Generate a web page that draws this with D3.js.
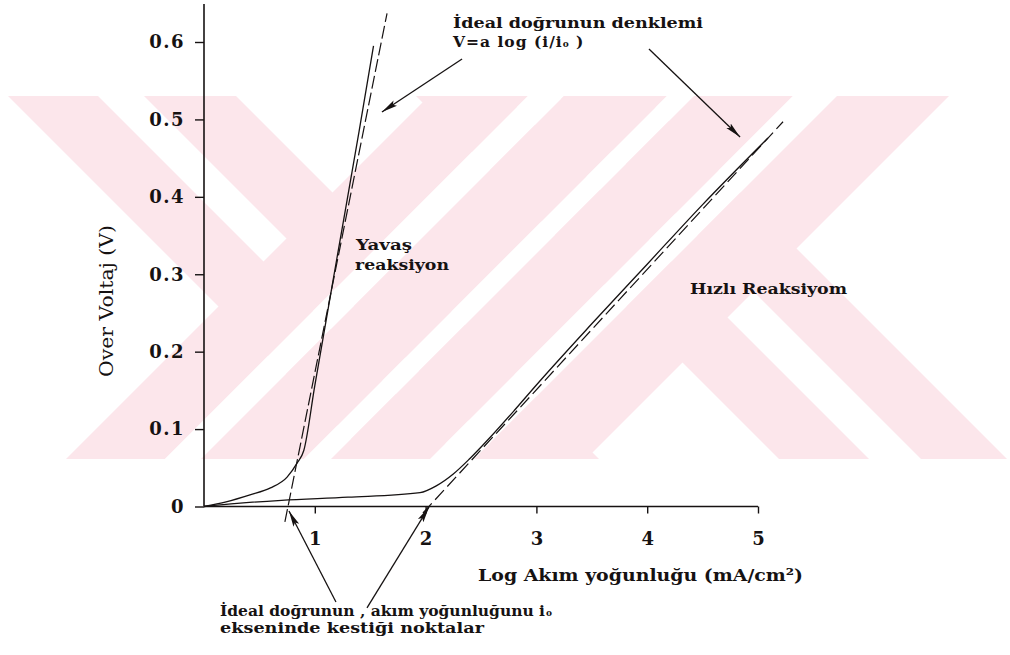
<!DOCTYPE html>
<html>
<head>
<meta charset="utf-8">
<script src="https://cdn.jsdelivr.net/npm/d3@7"></script>
<style>
  html, body { margin: 0; padding: 0; background: #fff; }
  svg { display: block; font-family: "DejaVu Serif", "Liberation Serif", serif; }
</style>
</head>
<body>
<svg id="chart" width="1010" height="655"></svg>
<script>
// Polarisation curves: log current density (mA/cm²) against overvoltage (V)
const slowLogI = [0, 0.2, 0.415, 0.6, 0.75, 0.84, 0.9, 1.0, 1.2, 1.4, 1.53];
const slowV    = [0, 0.006, 0.015, 0.024, 0.038, 0.056, 0.072, 0.156, 0.321, 0.485, 0.595];

const fastLogI = [0, 0.3, 0.7, 1.3, 1.95, 2.1, 2.25, 2.4, 2.6, 2.8, 3.0, 3.5, 4.0, 4.5, 5.09];
const fastV    = [0, 0.004, 0.008, 0.012, 0.018, 0.027, 0.042, 0.062, 0.092, 0.124, 0.157, 0.236, 0.313, 0.390, 0.476];

// Ideal lines V = a log(i/i0), given by their two end points
const slowIdealLogI = [0.73, 1.652];
const slowIdealV    = [-0.020, 0.637];
const fastIdealLogI = [1.976, 5.226];
const fastIdealV    = [-0.0084, 0.497];

const xTickValues = [1, 2, 3, 4, 5];
const xTickLabels = ["1", "2", "3", "4", "5"];
const yTickValues = [0, 0.1, 0.2, 0.3, 0.4, 0.5, 0.6];
const yTickLabels = ["0", "0.1", "0.2", "0.3", "0.4", "0.5", "0.6"];

const svg = d3.select("#chart");
const ink = "#161212";

const x = d3.scaleLinear().domain([0, 5]).range([204, 758]);
const y = d3.scaleLinear().domain([0, 0.6]).range([506.5, 42]);

// ---- background emblem: two striped crosses built from 45° bands ----
const defs = svg.append("defs");
defs.append("clipPath").attr("id", "band")
  .append("rect").attr("x", 0).attr("y", 96).attr("width", 1010).attr("height", 363);

defs.append("marker")
  .attr("id", "head").attr("viewBox", "0 -4 16 8")
  .attr("refX", 16).attr("refY", 0)
  .attr("markerWidth", 16).attr("markerHeight", 8)
  .attr("markerUnits", "userSpaceOnUse")
  .attr("orient", "auto")
  .append("path").attr("d", "M0,-3.2L16,0L0,3.2L3,0Z").attr("fill", ink);

const emblem = svg.append("g").attr("clip-path", "url(#band)");
const pink = "#fce6eb";
// u = x + y (constant along "/"), v = x - y (constant along "\")
function uvPoly(u0, u1, v0, v1) {
  return [[u0, v0], [u1, v0], [u1, v1], [u0, v1]]
    .map(([u, v]) => [(u + v) / 2, (u - v) / 2].join(",")).join(" ");
}
// "\" bands
[[-88, 2], [48, 140], [320, 410], [462, 548]].forEach(([v0, v1]) => {
  emblem.append("polygon").attr("points", uvPoly(-2000, 3000, v0, v1)).attr("fill", pink);
});
// "/" bands lying over them, with white gaps between the stripes
[[525, 624, pink], [624, 660, "#fff"], [660, 763, pink], [763, 790, "#fff"],
 [790, 889, pink], [889, 933, "#fff"], [933, 1045, pink]].forEach(([u0, u1, c]) => {
  emblem.append("polygon").attr("points", uvPoly(u0, u1, -2000, 3000)).attr("fill", c);
});

// ---- axes ----
const xAxis = d3.axisBottom(x)
  .tickValues(xTickValues)
  .tickFormat((d, i) => xTickLabels[i])
  .tickSize(7).tickSizeOuter(0).tickPadding(19);

const gx = svg.append("g").attr("transform", `translate(0,${y(0)})`).call(xAxis);
gx.select(".domain").attr("stroke", ink).attr("stroke-width", 1.6)
  .attr("d", `M${x(0)},0H${x(5)}`);
gx.selectAll(".tick line").attr("stroke", ink).attr("stroke-width", 1.4);
gx.selectAll(".tick text")
  .attr("fill", ink).attr("font-family", "DejaVu Serif")
  .attr("font-weight", "bold").attr("font-size", 18);

const yAxis = d3.axisLeft(y)
  .tickValues(yTickValues)
  .tickFormat((d, i) => yTickLabels[i])
  .tickSize(9).tickSizeOuter(0).tickPadding(10);

const gy = svg.append("g").attr("transform", `translate(${x(0)},0)`).call(yAxis);
gy.select(".domain").attr("stroke", ink).attr("stroke-width", 1.6)
  .attr("d", `M0,${y(0)}V${y(0.649)}`);
gy.selectAll(".tick line").attr("stroke", ink).attr("stroke-width", 1.4);
gy.selectAll(".tick text")
  .attr("fill", ink).attr("font-family", "DejaVu Serif")
  .attr("font-weight", "bold").attr("font-size", 18)
  .attr("letter-spacing", "1.5px");

// ---- curves ----
const line = d3.line().x(d => x(d[0])).y(d => y(d[1])).curve(d3.curveMonotoneX);
const straight = d3.line().x(d => x(d[0])).y(d => y(d[1]));

svg.append("path").datum(d3.zip(slowLogI, slowV))
  .attr("d", line).attr("fill", "none").attr("stroke", ink).attr("stroke-width", 1.3);
svg.append("path").datum(d3.zip(fastLogI, fastV))
  .attr("d", line).attr("fill", "none").attr("stroke", ink).attr("stroke-width", 1.3);

svg.append("path").datum(d3.zip(slowIdealLogI, slowIdealV))
  .attr("d", straight).attr("fill", "none").attr("stroke", ink)
  .attr("stroke-width", 1.2).attr("stroke-dasharray", "13,4");
svg.append("path").datum(d3.zip(fastIdealLogI, fastIdealV))
  .attr("d", straight).attr("fill", "none").attr("stroke", ink)
  .attr("stroke-width", 1.2).attr("stroke-dasharray", "13,5");

// ---- annotation arrows (tail -> tip, in axis units) ----
[
  [2.329, 0.578, 1.606, 0.5096],
  [4.016, 0.591, 4.838, 0.4774],
  [1.191, -0.1234, 0.767, -0.0058],
  [1.471, -0.131, 2.031, -0.0006]
].forEach(([lx0, v0, lx1, v1]) => {
  svg.append("line")
    .attr("x1", x(lx0)).attr("y1", y(v0)).attr("x2", x(lx1)).attr("y2", y(v1))
    .attr("stroke", ink).attr("stroke-width", 1.3)
    .attr("marker-end", "url(#head)");
});

// ---- text ----
function label(txt, px, py, size, len, weight) {
  const t = svg.append("text")
    .attr("x", px).attr("y", py)
    .attr("font-size", size).attr("font-weight", weight || "bold")
    .attr("fill", ink).text(txt);
  if (len) t.attr("textLength", len).attr("lengthAdjust", "spacingAndGlyphs");
  return t;
}

label("İdeal doğrunun denklemi", 453, 28, 15.5, 250);
const eq = svg.append("text").attr("x", 453).attr("y", 47)
  .attr("font-size", 15.5).attr("font-weight", "bold").attr("fill", ink)
  .attr("letter-spacing", "1px");
eq.append("tspan").text("V=a log (i/i");
eq.append("tspan").attr("font-size", 9).text("o");
eq.append("tspan").text(" )");

label("Yavaş", 356, 250, 14, 56);
label("reaksiyon", 355, 270, 14, 94);
label("Hızlı Reaksiyom", 690, 294, 14, 157);

label("Log Akım yoğunluğu (mA/cm²)", 478, 581, 17, 325);

svg.append("text")
  .attr("transform", "translate(113,301) rotate(-90)")
  .attr("text-anchor", "middle")
  .attr("font-size", 18).attr("fill", ink)
  .attr("textLength", 152).attr("lengthAdjust", "spacingAndGlyphs")
  .text("Over Voltaj (V)");

// footnote: "... i" followed by a small "o" standing for i0
const note = svg.append("text").attr("x", 220).attr("y", 616)
  .attr("font-size", 15.5).attr("font-weight", "bold").attr("fill", ink);
note.append("tspan").text("İdeal doğrunun , akım yoğunluğunu i");
note.append("tspan").attr("font-size", 9).attr("dx", 1).text("o");
label("ekseninde kestiği noktalar", 220, 633, 15.5, 264);
</script>
</body>
</html>
